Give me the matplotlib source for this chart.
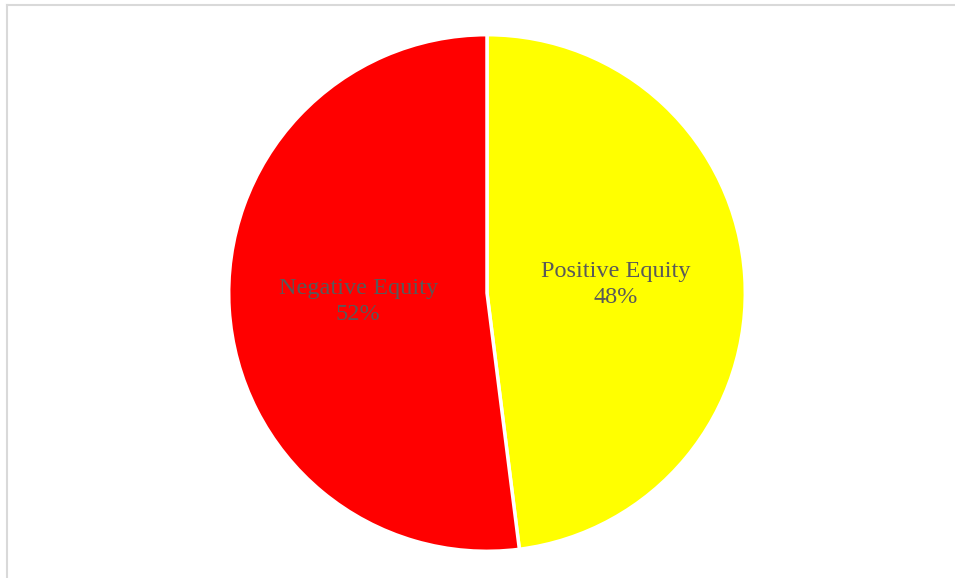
import numpy as np
import matplotlib.pyplot as plt
from matplotlib.lines import Line2D

labels = ["Positive Equity", "Negative Equity"]
shares = [48, 52]
colors = ["#FFFF00", "#FF0000"]

fig = plt.figure(figsize=(9.55, 5.78), dpi=100)
ax = fig.add_axes([230 / 955, 28 / 578, 514 / 955, 514 / 578])

texts = [f"{l}\n{v}%" for l, v in zip(labels, shares)]
wedges, _ = ax.pie(shares, colors=colors, startangle=90, counterclock=False,
                   wedgeprops=dict(edgecolor="white", linewidth=2.5))
for w, t in zip(wedges, texts):
    ang = np.deg2rad((w.theta1 + w.theta2) / 2)
    ax.text(0.5 * np.cos(ang), 0.5 * np.sin(ang), t, ha="center", va="center",
            fontsize=17.5, color="#595959", family="Liberation Serif", linespacing=1.3)
ax.set_xlim(-0.995, 0.995)
ax.set_ylim(-0.995, 0.995)
ax.set_aspect("equal")

# chart frame (only top and left edges visible)
fig.add_artist(Line2D([6.5 / 955, 6.5 / 955], [0, 1 - 4.5 / 578], color="#D9D9D9", lw=1.5))
fig.add_artist(Line2D([6.5 / 955, 1], [1 - 4.5 / 578, 1 - 4.5 / 578], color="#D9D9D9", lw=1.5))

fig.savefig("out.png", dpi=100)
